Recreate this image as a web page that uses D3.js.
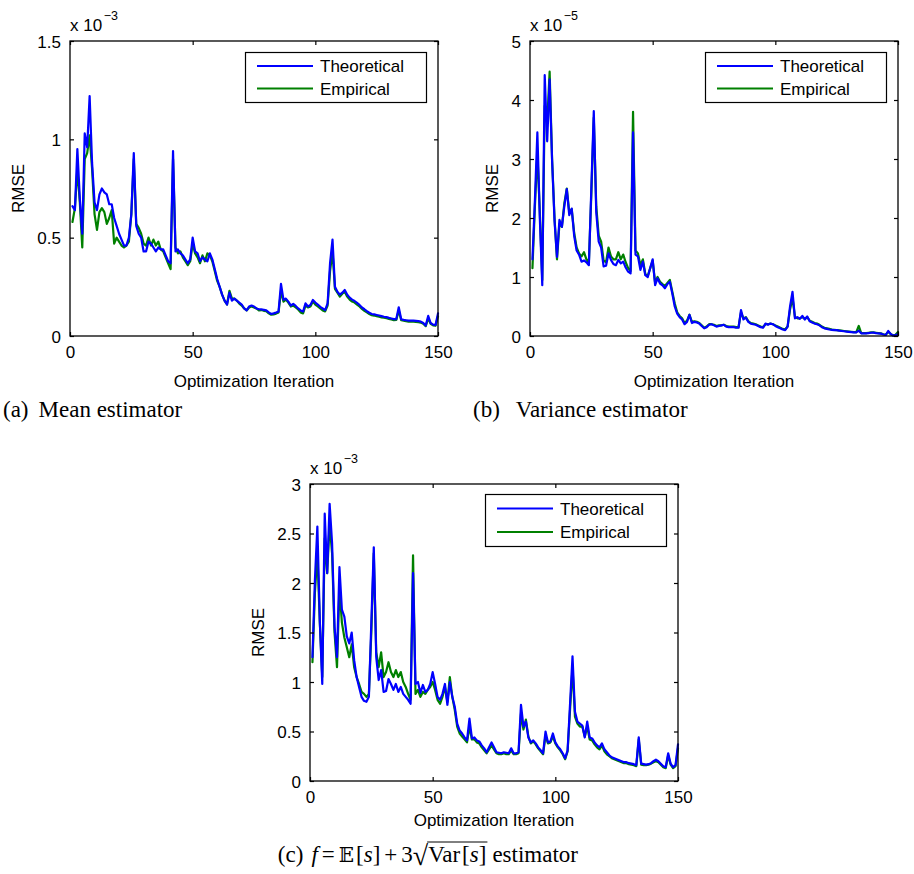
<!DOCTYPE html>
<html><head><meta charset="utf-8">
<script src="https://cdn.jsdelivr.net/npm/d3@7/dist/d3.min.js"></script>
<style>
body{margin:0;background:#fff}
svg{display:block}
</style>
</head><body>
<svg id="chart" width="914" height="874" font-family="Liberation Sans, Arial, Helvetica, sans-serif"></svg>
<script>
// ---------------- data ----------------
const iterations = d3.range(1, 151);
const xTicks = [0, 50, 100, 150];
const xTickLabels = ["0", "50", "100", "150"];
const seriesNames = ["Theoretical", "Empirical"];
const seriesColors = ["#0000ff", "#008000"];

// (a) Mean estimator, RMSE x 1e-3
const meanTheo = [
0.66,0.64,0.95,0.70,0.52,1.03,0.96,1.22,0.88,0.68,
0.64,0.72,0.75,0.73,0.72,0.67,0.67,0.60,0.56,0.52,
0.49,0.46,0.46,0.50,0.62,0.93,0.56,0.52,0.50,0.43,
0.43,0.48,0.47,0.45,0.43,0.45,0.44,0.44,0.41,0.38,
0.37,0.94,0.43,0.44,0.42,0.41,0.39,0.37,0.39,0.50,
0.43,0.42,0.38,0.40,0.39,0.38,0.42,0.39,0.34,0.29,
0.25,0.21,0.18,0.16,0.22,0.18,0.19,0.18,0.17,0.16,
0.14,0.13,0.15,0.155,0.15,0.14,0.136,0.135,0.133,0.13,
0.12,0.112,0.115,0.119,0.124,0.265,0.185,0.19,0.175,0.155,
0.163,0.153,0.14,0.13,0.124,0.166,0.15,0.158,0.183,0.17,
0.16,0.148,0.14,0.132,0.166,0.37,0.49,0.25,0.225,0.21,
0.22,0.234,0.21,0.195,0.185,0.178,0.168,0.158,0.145,0.136,
0.126,0.118,0.112,0.11,0.107,0.104,0.101,0.098,0.096,0.092,
0.089,0.086,0.086,0.146,0.085,0.082,0.08,0.078,0.078,0.078,
0.077,0.076,0.073,0.066,0.053,0.102,0.066,0.058,0.056,0.115];
const meanEmp = [
0.58,0.65,0.85,0.68,0.45,0.90,0.93,1.02,0.85,0.62,
0.54,0.63,0.65,0.63,0.57,0.60,0.64,0.47,0.50,0.48,
0.46,0.45,0.46,0.48,0.62,0.90,0.57,0.55,0.52,0.47,
0.46,0.50,0.46,0.49,0.46,0.48,0.44,0.43,0.40,0.37,
0.34,0.90,0.45,0.42,0.43,0.40,0.38,0.36,0.38,0.47,
0.42,0.40,0.37,0.41,0.38,0.42,0.41,0.38,0.33,0.28,
0.25,0.21,0.18,0.16,0.23,0.19,0.19,0.18,0.165,0.155,
0.14,0.13,0.145,0.15,0.145,0.14,0.13,0.132,0.128,0.126,
0.115,0.108,0.11,0.114,0.12,0.23,0.175,0.185,0.17,0.15,
0.155,0.145,0.135,0.12,0.115,0.155,0.145,0.15,0.175,0.16,
0.15,0.14,0.13,0.125,0.155,0.33,0.43,0.24,0.22,0.2,
0.215,0.225,0.2,0.185,0.175,0.17,0.16,0.15,0.138,0.128,
0.12,0.112,0.106,0.104,0.101,0.098,0.095,0.093,0.09,0.087,
0.084,0.081,0.082,0.13,0.08,0.078,0.075,0.073,0.073,0.073,
0.072,0.07,0.068,0.062,0.05,0.09,0.062,0.054,0.052,0.1];

// (b) Variance estimator, RMSE x 1e-5
const varTheo = [
1.3,2.3,3.45,2.0,0.86,4.42,3.3,4.35,2.98,1.95,
1.34,1.97,1.85,2.2,2.49,2.05,2.16,1.7,1.45,1.38,
1.26,1.28,1.25,1.2,2.5,3.81,2.1,1.6,1.5,1.18,
1.19,1.4,1.29,1.22,1.2,1.29,1.23,1.26,1.16,1.09,
1.06,3.45,1.38,1.35,1.12,1.26,1.03,1.0,1.15,1.3,
0.86,0.98,0.89,0.86,0.81,0.88,0.92,0.72,0.5,0.38,
0.32,0.28,0.2,0.24,0.36,0.22,0.24,0.23,0.21,0.17,
0.13,0.15,0.19,0.2,0.18,0.16,0.17,0.18,0.19,0.16,
0.15,0.15,0.15,0.14,0.14,0.44,0.28,0.31,0.24,0.21,
0.2,0.19,0.17,0.15,0.14,0.21,0.19,0.21,0.2,0.17,
0.15,0.13,0.11,0.1,0.16,0.5,0.75,0.3,0.32,0.29,
0.34,0.28,0.33,0.25,0.23,0.21,0.2,0.18,0.15,0.13,
0.12,0.11,0.105,0.1,0.1,0.09,0.085,0.08,0.075,0.07,
0.065,0.06,0.06,0.09,0.045,0.045,0.045,0.05,0.055,0.056,
0.05,0.045,0.04,0.025,0.017,0.085,0.034,0.006,0.015,0.03];
const varEmp = [
1.15,2.2,3.1,2.1,0.95,3.9,3.6,4.48,3.0,2.0,
1.3,1.9,1.85,2.25,2.5,2.1,2.15,1.75,1.5,1.4,
1.35,1.42,1.3,1.25,2.4,3.7,2.2,1.7,1.6,1.28,
1.25,1.5,1.35,1.3,1.3,1.42,1.3,1.38,1.25,1.15,
1.1,3.8,1.45,1.4,1.2,1.3,1.05,1.02,1.15,1.28,
0.9,1.0,0.92,0.88,0.85,0.9,0.95,0.75,0.55,0.4,
0.34,0.3,0.22,0.26,0.36,0.24,0.25,0.24,0.22,0.18,
0.14,0.16,0.2,0.2,0.19,0.17,0.18,0.18,0.19,0.17,
0.16,0.16,0.16,0.15,0.15,0.4,0.3,0.32,0.25,0.22,
0.21,0.2,0.18,0.16,0.15,0.2,0.2,0.21,0.2,0.18,
0.16,0.14,0.12,0.11,0.16,0.45,0.65,0.32,0.3,0.3,
0.32,0.29,0.32,0.26,0.24,0.22,0.21,0.19,0.16,0.14,
0.13,0.12,0.11,0.105,0.1,0.095,0.09,0.085,0.08,0.075,
0.07,0.065,0.065,0.17,0.05,0.05,0.05,0.055,0.06,0.06,
0.055,0.05,0.045,0.03,0.02,0.07,0.035,0.01,0.02,0.07];

// (c) f = E[s] + 3 sqrt(Var[s]) estimator, RMSE x 1e-3
const fTheo = [
1.25,2.03,2.57,1.62,0.98,2.70,2.1,2.80,2.40,1.56,
1.25,2.16,1.73,1.66,1.46,1.39,1.5,1.22,1.05,0.95,
0.85,0.81,0.8,0.85,1.6,2.36,1.25,1.02,1.12,0.9,
0.91,1.03,0.98,0.92,0.98,0.9,0.95,0.88,0.85,0.82,
0.78,2.1,0.98,1.0,0.89,0.97,0.9,0.92,0.98,1.1,
0.98,0.85,0.82,0.88,0.98,0.77,1.0,0.85,0.75,0.58,
0.51,0.48,0.44,0.41,0.63,0.43,0.44,0.41,0.4,0.36,
0.33,0.29,0.34,0.39,0.34,0.29,0.285,0.28,0.29,0.285,
0.28,0.33,0.28,0.28,0.29,0.77,0.55,0.6,0.44,0.39,
0.41,0.38,0.34,0.31,0.28,0.5,0.39,0.4,0.48,0.39,
0.35,0.32,0.28,0.23,0.31,0.78,1.26,0.7,0.6,0.58,
0.56,0.44,0.6,0.44,0.43,0.39,0.36,0.34,0.38,0.32,
0.29,0.26,0.24,0.23,0.22,0.21,0.2,0.19,0.19,0.18,
0.175,0.17,0.16,0.44,0.175,0.17,0.165,0.17,0.18,0.2,
0.215,0.2,0.175,0.15,0.14,0.28,0.175,0.14,0.16,0.37];
const fEmp = [
1.2,1.9,2.3,1.6,1.05,2.45,2.1,2.6,2.3,1.5,
1.15,1.95,1.6,1.45,1.35,1.25,1.38,1.15,1.05,0.98,
0.9,0.88,0.85,0.88,1.5,2.3,1.3,1.15,1.3,1.05,
1.1,1.2,1.1,1.05,1.12,1.05,1.1,1.0,0.95,0.88,
0.82,2.28,0.88,0.92,0.85,0.9,0.88,0.92,0.95,1.0,
0.92,0.82,0.78,0.85,0.95,0.8,1.05,0.85,0.72,0.55,
0.48,0.45,0.42,0.39,0.55,0.42,0.42,0.39,0.38,0.34,
0.31,0.28,0.32,0.36,0.32,0.28,0.27,0.27,0.28,0.27,
0.27,0.31,0.27,0.27,0.28,0.68,0.52,0.62,0.45,0.38,
0.4,0.37,0.33,0.3,0.27,0.46,0.38,0.39,0.45,0.38,
0.34,0.31,0.27,0.22,0.3,0.72,1.15,0.65,0.58,0.55,
0.55,0.45,0.55,0.42,0.41,0.37,0.34,0.32,0.36,0.3,
0.27,0.25,0.23,0.22,0.21,0.2,0.19,0.18,0.18,0.17,
0.165,0.16,0.15,0.42,0.165,0.16,0.16,0.165,0.175,0.19,
0.2,0.19,0.165,0.14,0.13,0.26,0.165,0.13,0.15,0.33];

const meanYTicks = [0, 0.5, 1, 1.5];
const meanYTickLabels = ["0", "0.5", "1", "1.5"];
const varYTicks = [0, 1, 2, 3, 4, 5];
const varYTickLabels = ["0", "1", "2", "3", "4", "5"];
const fYTicks = [0, 0.5, 1, 1.5, 2, 2.5, 3];
const fYTickLabels = ["0", "0.5", "1", "1.5", "2", "2.5", "3"];
const exponentLabels = ["\u22123", "\u22125", "\u22123"];
const yAxisLabel = "RMSE";
const xAxisLabel = "Optimization Iteration";

// ---------------- layout ----------------
const svg = d3.select("#chart");
const SANS = "Liberation Sans, Arial, Helvetica, sans-serif";
const SERIF = "Liberation Serif, Times New Roman, serif";
const panels = [
  {l:70, r:438, t:41, b:336, yMax:1.5, ticks:meanYTicks, labels:meanYTickLabels, exp:exponentLabels[0],
   theo:meanTheo, emp:meanEmp, leg:{x0:245.5, x1:426.5, y0:52.5, y1:102.5}, ylabX:18, xlabY:387},
  {l:530, r:898, t:41, b:336, yMax:5, ticks:varYTicks, labels:varYTickLabels, exp:exponentLabels[1],
   theo:varTheo, emp:varEmp, leg:{x0:705.5, x1:886.5, y0:52.5, y1:102.5}, ylabX:492, xlabY:387},
  {l:310, r:678, t:484, b:781, yMax:3, ticks:fYTicks, labels:fYTickLabels, exp:exponentLabels[2],
   theo:fTheo, emp:fEmp, leg:{x0:485.5, x1:666.5, y0:494.5, y1:546.5}, ylabX:258, xlabY:826}
];

const FS = 17, TL = 4;

panels.forEach(p => {
  const g = svg.append("g");
  const x = d3.scaleLinear().domain([0, 150]).range([p.l, p.r]);
  const y = d3.scaleLinear().domain([0, p.yMax]).range([p.b, p.t]);

  const line = d3.line().x((d, i) => x(iterations[i])).y(d => y(d));
  [[p.emp, seriesColors[1]], [p.theo, seriesColors[0]]].forEach(([vals, col]) => {
    g.append("path").datum(vals).attr("d", line)
      .attr("fill", "none").attr("stroke", col).attr("stroke-width", 2.2)
      .attr("stroke-linejoin", "round").attr("stroke-linecap", "round");
  });

  const axB = d3.axisBottom(x).tickValues(xTicks).tickSize(-TL).tickFormat((d, i) => xTickLabels[i]).tickPadding(10);
  const axT = d3.axisTop(x).tickValues(xTicks).tickSize(-TL).tickFormat("");
  const axL = d3.axisLeft(y).tickValues(p.ticks).tickSize(-TL).tickFormat((d, i) => p.labels[i]).tickPadding(9);
  const axR = d3.axisRight(y).tickValues(p.ticks).tickSize(-TL).tickFormat("");
  const gb = g.append("g").attr("transform", `translate(0,${p.b})`).call(axB);
  const gt = g.append("g").attr("transform", `translate(0,${p.t})`).call(axT);
  const gl = g.append("g").attr("transform", `translate(${p.l},0)`).call(axL);
  const gr = g.append("g").attr("transform", `translate(${p.r},0)`).call(axR);
  [gb, gt, gl, gr].forEach(a => {
    a.attr("font-family", SANS).attr("font-size", FS);
    a.select(".domain").remove();
    a.selectAll("line").attr("stroke", "#000").attr("stroke-width", 1.2);
    a.selectAll("text").attr("fill", "#000");
  });
  gb.selectAll("text").attr("dy", null).attr("y", 22);
  gl.selectAll("text").attr("dy", "0.36em");

  g.append("rect").attr("x", p.l).attr("y", p.t).attr("width", p.r - p.l).attr("height", p.b - p.t)
    .attr("fill", "none").attr("stroke", "#000").attr("stroke-width", 1.3);

  const ex = g.append("text").attr("x", p.l).attr("y", p.t - 10).attr("font-size", FS).text("x 10");
  const w = ex.node().getComputedTextLength();
  g.append("text").attr("x", p.l + w + 1.5).attr("y", p.t - 21).attr("font-size", 12.5).text(p.exp);

  g.append("text").attr("transform", `translate(${p.ylabX},${(p.t + p.b) / 2}) rotate(-90)`)
    .attr("text-anchor", "middle").attr("dy", "0.35em").attr("font-size", FS).text(yAxisLabel);
  g.append("text").attr("x", (p.l + p.r) / 2).attr("y", p.xlabY).attr("text-anchor", "middle")
    .attr("font-size", FS).text(xAxisLabel);

  const L = p.leg;
  g.append("rect").attr("x", L.x0).attr("y", L.y0).attr("width", L.x1 - L.x0).attr("height", L.y1 - L.y0)
    .attr("fill", "#fff").attr("stroke", "#000").attr("stroke-width", 1.2);
  const rowH = (L.y1 - L.y0) / 2;
  seriesNames.forEach((nm, i) => {
    const ly = L.y0 + rowH * (i + 0.5) + (i === 0 ? 1 : -1.5);
    g.append("line").attr("x1", L.x0 + 11.5).attr("x2", L.x0 + 67.5).attr("y1", ly).attr("y2", ly)
      .attr("stroke", seriesColors[i]).attr("stroke-width", 2.2);
    g.append("text").attr("x", L.x0 + 74.5).attr("y", ly + 6).attr("font-size", FS).text(nm);
  });
});

// ---------------- captions ----------------
const CF = 23;
function caption(label, body, x, yb, gap) {
  const t1 = svg.append("text").attr("x", x).attr("y", yb).attr("font-family", SERIF).attr("font-size", CF).text(label);
  const w = t1.node().getComputedTextLength();
  svg.append("text").attr("x", x + w + gap).attr("y", yb).attr("font-family", SERIF).attr("font-size", CF).text(body);
}
caption("(a)", "Mean estimator", 3, 417, 10);
caption("(b)", "Variance estimator", 473, 417, 16);

(function () {
  const yb = 862;
  const g = svg.append("g");
  const pieces = [
    {t: "(c)"}, {gap: 8},
    {t: "f", it: true}, {gap: 4}, {t: "="}, {gap: 4},
    {t: "\uD835\uDD3C", fam: "DejaVu Serif, DejaVu Sans, serif", fs: CF - 3}, {gap: 2},
    {t: "["}, {t: "s", it: true}, {t: "]"}, {gap: 4}, {t: "+"}, {gap: 4}, {t: "3"},
    {t: "\u221A", rad: true}, {t: "Var", ov: true}, {gap: 2, ov: true},
    {t: "[", ov: true}, {t: "s", it: true, ov: true}, {t: "]", ov: true}, {gap: 6},
    {t: "estimator"}
  ];
  let cx = 0, ovStart = null, ovEnd = null;
  pieces.forEach(pc => {
    if (pc.gap) { cx += pc.gap; if (pc.ov) ovEnd = cx; return; }
    const tx = g.append("text").attr("x", cx).attr("y", pc.rad ? yb + 3 : yb)
      .attr("font-family", pc.fam || SERIF).attr("font-size", pc.rad ? CF + 5 : (pc.fs || CF))
      .attr("font-style", pc.it ? "italic" : null).text(pc.t);
    const w = tx.node().getComputedTextLength();
    if (pc.ov && ovStart === null) ovStart = cx;
    cx += w;
    if (pc.ov) ovEnd = cx;
  });
  g.append("line").attr("x1", ovStart - 1).attr("x2", ovEnd + 1).attr("y1", yb - 20).attr("y2", yb - 20)
    .attr("stroke", "#000").attr("stroke-width", 1);
  const endX = 578;
  g.attr("transform", `translate(${endX - cx},0)`);
})();
</script>
</body></html>
